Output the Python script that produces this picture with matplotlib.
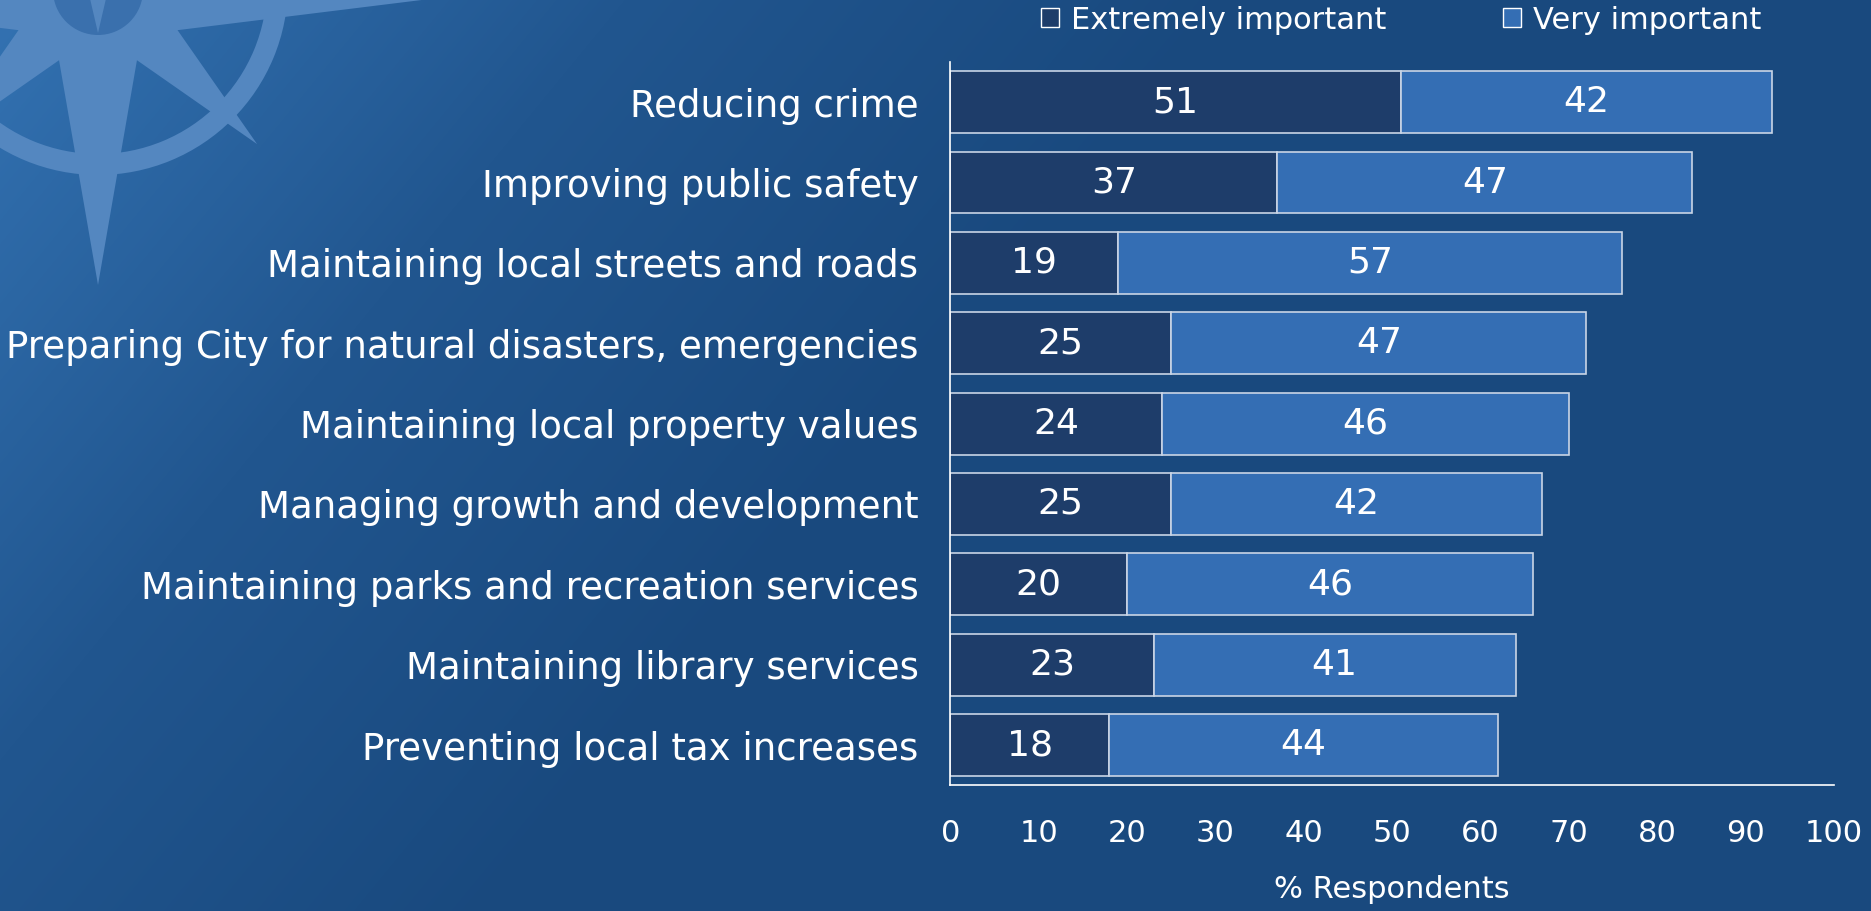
import numpy as np
import matplotlib.pyplot as plt
from matplotlib.patches import Patch, Polygon, Wedge
from matplotlib.colors import LinearSegmentedColormap

plt.rcParams['font.family'] = ['DejaVu Sans']

categories = ["Reducing crime", "Improving public safety",
              "Maintaining local streets and roads",
              "Preparing City for natural disasters, emergencies",
              "Maintaining local property values",
              "Managing growth and development",
              "Maintaining parks and recreation services",
              "Maintaining library services",
              "Preventing local tax increases"]
extremely = [51, 37, 19, 25, 24, 25, 20, 23, 18]
very = [42, 47, 57, 47, 46, 42, 46, 41, 44]
series_names = ["Extremely important", "Very important"]
xticks = [0, 10, 20, 30, 40, 50, 60, 70, 80, 90, 100]

dark = "#1e3d6a"
light = "#346eb4"
edge = "#c9d5e6"

fig = plt.figure(figsize=(18.71, 9.11), dpi=100)

# gradient background with faint compass
bg = fig.add_axes([0, 0, 1, 1])
W, H = 1871, 911
yy, xx = np.mgrid[0:H, 0:W]
t = np.clip((xx / W) * 0.75 + (yy / H) * 0.3, 0, 1)
t = np.clip(t * 2.0, 0, 1)
cmap = LinearSegmentedColormap.from_list("bg", ["#3372b2", "#21568f", "#19497e"])
bg.imshow(t, cmap=cmap, extent=[0, W, H, 0], aspect="auto")
bg.set_xlim(0, W)
bg.set_ylim(H, 0)
bg.axis("off")

cx, cy = 98, -15
comp = dict(facecolor="#5487c0", edgecolor="none")
bg.add_patch(Wedge((cx, cy), 190, 0, 360, width=21, **comp))
c = np.array([cx, cy])
for ang, length, half in [(90, 300, 52), (0, 445, 55), (180, 445, 55),
                          (45, 225, 40), (135, 225, 40)]:
    a = np.deg2rad(ang)
    d = np.array([np.cos(a), np.sin(a)])
    n = np.array([-d[1], d[0]])
    pts = [c + n * half, c + d * length, c - n * half]
    bg.add_patch(Polygon(pts, closed=True, **comp))
bg.add_patch(Wedge((cx, cy + 5), 45, 0, 360, width=33, facecolor="#3a70ad", edgecolor="none"))
bg.add_patch(Polygon([[cx - 10, cy + 5], [cx, cy + 48], [cx + 10, cy + 5]], closed=True, **comp))

ax = fig.add_axes([0.508, 0.138, 0.472, 0.794])
ax.patch.set_alpha(0)
y = np.arange(len(categories))
ax.barh(y, extremely, height=0.77, color=dark, edgecolor=edge, linewidth=1.2)
ax.barh(y, very, left=extremely, height=0.77, color=light, edgecolor=edge, linewidth=1.2)

for i in range(len(categories)):
    ax.text(extremely[i] / 2, y[i], str(extremely[i]), color="white",
            ha="center", va="center", fontsize=26)
    ax.text(extremely[i] + very[i] / 2, y[i], str(very[i]), color="white",
            ha="center", va="center", fontsize=26)

ax.set_ylim(len(categories) - 0.5, -0.5)
ax.set_xlim(0, 100)
ax.set_yticks(y)
ax.set_yticklabels(categories, fontsize=26.7, color="white")
ax.set_xticks(xticks)
ax.set_xticklabels([str(v) for v in xticks], fontsize=22, color="white")
ax.tick_params(axis="both", length=0)
ax.tick_params(axis="x", pad=24)
ax.tick_params(axis="y", pad=23)
ax.set_xlabel("% Respondents", fontsize=22, color="white", labelpad=20)

for s in ["top", "right"]:
    ax.spines[s].set_visible(False)
for s in ["left", "bottom"]:
    ax.spines[s].set_color("white")
    ax.spines[s].set_linewidth(1.2)

handles = [Patch(facecolor=dark, edgecolor="white", linewidth=1),
           Patch(facecolor=light, edgecolor="white", linewidth=1)]
fig.legend(handles, series_names, loc="center", ncol=2,
           bbox_to_anchor=(0.749, 0.978), frameon=False, fontsize=22,
           labelcolor="white", handlelength=0.6, handleheight=0.6,
           handletextpad=0.4, columnspacing=3.8, borderpad=0)

fig.savefig("out.png", dpi=100)
